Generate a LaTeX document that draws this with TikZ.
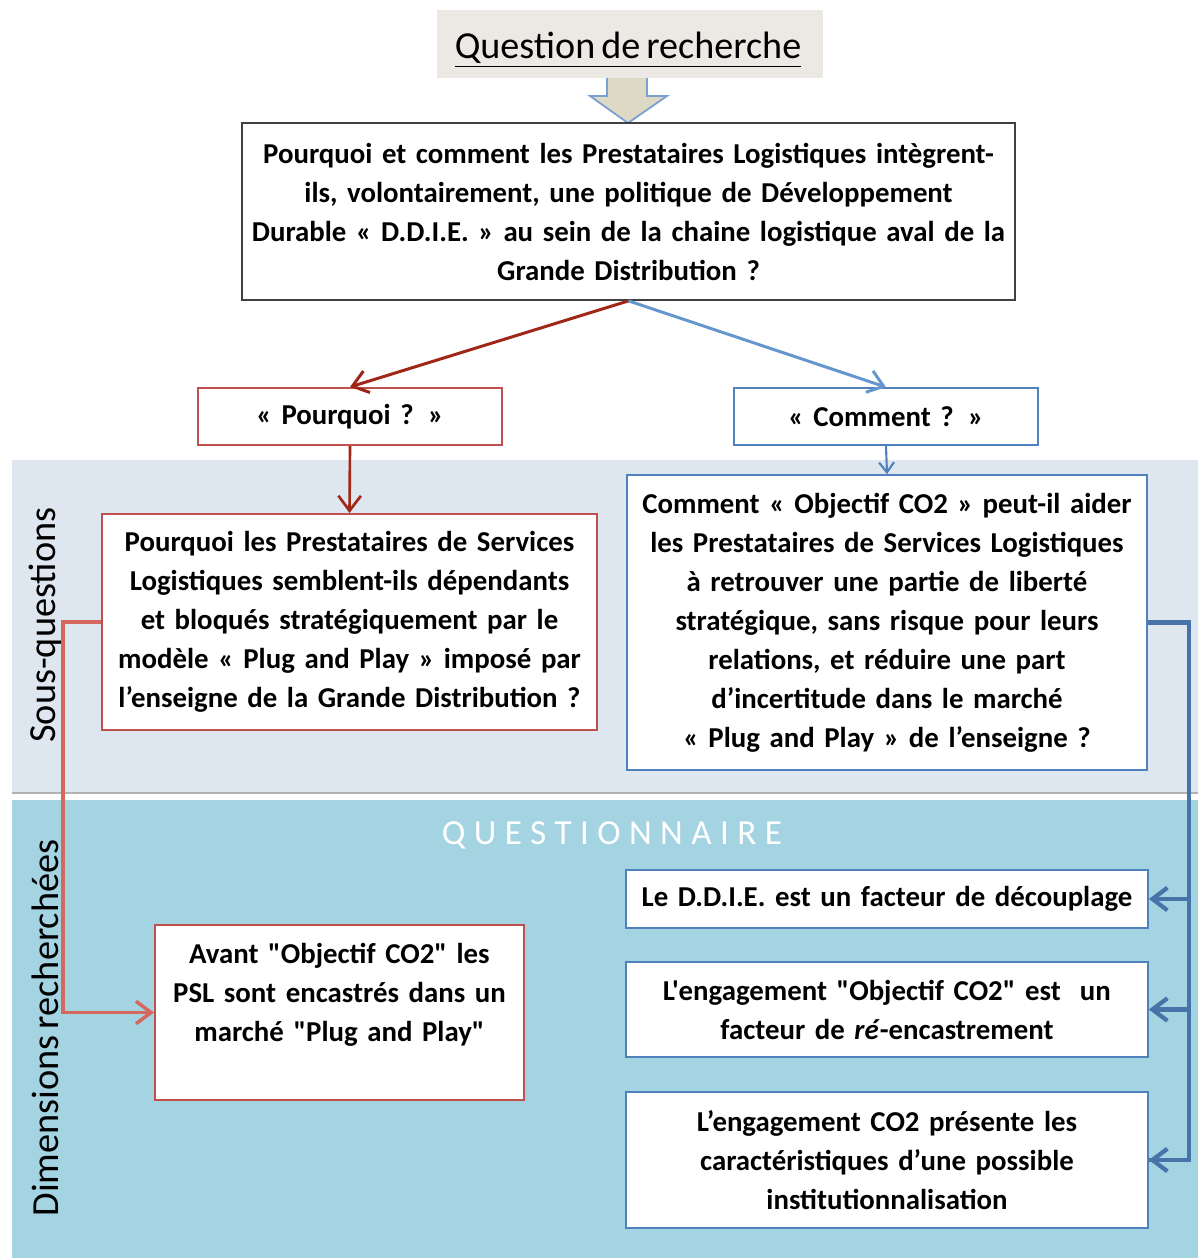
\documentclass[tikz,border=0pt]{standalone}
\usepackage{fontspec}
\setmainfont{Carlito}[Ligatures=TeXOff, WordSpace=0.7]
\usetikzlibrary{arrows.meta}

\definecolor{titlegray}{RGB}{236,232,227}
\definecolor{arrowfill}{RGB}{221,217,196}
\definecolor{arrowline}{RGB}{120,160,208}
\definecolor{darkred}{RGB}{160,38,24}
\definecolor{lightblue}{RGB}{102,150,206}
\definecolor{boxred}{RGB}{192,80,77}
\definecolor{boxblue}{RGB}{79,129,189}
\definecolor{sousband}{RGB}{222,230,239}
\definecolor{dimband}{RGB}{164,212,226}
\definecolor{conred}{RGB}{212,104,94}
\definecolor{conblue}{RGB}{70,116,168}

\tikzset{
  box/.style={draw, fill=white, inner sep=0pt, align=center,
    font=\bfseries\fontsize{16.4}{22.2}\selectfont},
  redbox/.style={box, draw=boxred, line width=1.2pt},
  bluebox/.style={box, draw=boxblue, line width=1pt},
  sidelabel/.style={rotate=90, font=\fontsize{21.8}{24}\selectfont},
  tip/.style={-{Straight Barb[length=3mm,width=4.5mm]}}
}

\begin{document}
\begin{tikzpicture}
  \useasboundingbox (0cm,0cm) rectangle (23.96cm,-25.16cm);
  % bands
  \filldraw[fill=sousband, draw=none] (0.24cm,-9.2cm) rectangle (23.96cm,-15.84cm);
  \draw[gray!60, line width=1.5pt] (0.24cm,-15.86cm) -- (23.96cm,-15.86cm);
  \filldraw[fill=dimband, draw=none] (0.24cm,-16cm) rectangle (23.96cm,-25.16cm);
  \node[sidelabel] (souslbl) at (0.9cm,-12.5cm) {Sous-questions};
  \node[sidelabel] (dimlbl) at (0.9cm,-20.56cm) {Dimensions recherchées};
  \node[white, font=\fontsize{20}{24}\selectfont\addfontfeatures{LetterSpace=24}] (questionnaire) at (12.24cm,-16.7cm) {QUESTIONNAIRE};

  % title and block arrow
  \filldraw[fill=arrowfill, draw=none] (12.14cm,-1.5cm) -- (12.14cm,-1.92cm) -- (11.8cm,-1.92cm) -- (12.56cm,-2.46cm) -- (13.34cm,-1.92cm) -- (12.94cm,-1.92cm) -- (12.94cm,-1.5cm) -- cycle;
  \draw[arrowline, line width=1pt] (12.14cm,-1.56cm) -- (12.14cm,-1.92cm) -- (11.8cm,-1.92cm) -- (12.56cm,-2.46cm) -- (13.34cm,-1.92cm) -- (12.94cm,-1.92cm) -- (12.94cm,-1.56cm);
  \filldraw[fill=titlegray, draw=none] (8.74cm,-0.2cm) rectangle (16.46cm,-1.56cm);
  \node[font=\fontsize{21.7}{24}\selectfont] (title) at (12.56cm,-1.0cm) {\underline{Question de recherche}};

  % question
  \node[box, draw=black!75, line width=1pt, text width=15.46cm, minimum height=3.54cm] (main) at (12.57cm,-4.23cm)
    {Pourquoi et comment les Prestataires Logistiques intègrent-\\ils, volontairement, une politique de Développement\\Durable « D.D.I.E. » au sein de la chaine logistique aval de la\\Grande Distribution ?};
  \node[redbox, text width=6.08cm, minimum height=1.14cm] (pourquoi) at (7cm,-8.33cm) {« Pourquoi ? »};
  \node[bluebox, text width=6.08cm, minimum height=1.14cm] (comment) at (17.72cm,-8.33cm) {« Comment ? »};

  % sous-questions
  \node[redbox, text width=9.9cm, minimum height=4.32cm] (redq) at (6.99cm,-12.44cm)
    {Pourquoi les Prestataires de Services\\Logistiques semblent-ils dépendants\\et bloqués stratégiquement par le\\modèle « Plug and Play » imposé par\\l’enseigne de la Grande Distribution ?};
  \node[bluebox, text width=10.4cm, minimum height=5.9cm] (blueq) at (17.74cm,-12.45cm)
    {Comment « Objectif CO2 » peut-il aider\\les Prestataires de Services Logistiques\\à retrouver une partie de liberté\\stratégique, sans risque pour leurs\\relations, et réduire une part\\d’incertitude dans le marché\\« Plug and Play » de l’enseigne ?};

  % dimensions
  \node[redbox, text width=7.38cm, minimum height=3.5cm] (redd) at (6.79cm,-20.25cm)
    {Avant "Objectif CO2" les\\PSL sont encastrés dans un\\marché "Plug and Play"\\[-6pt] \strut};
  \node[bluebox, text width=10.44cm, minimum height=1.16cm] (dima) at (17.74cm,-17.98cm)
    {Le D.D.I.E. est un facteur de découplage};
  \node[bluebox, text width=10.44cm, minimum height=1.9cm] (dimb) at (17.74cm,-20.19cm)
    {L'engagement "Objectif CO2" est~~un\\facteur de \textit{ré}-encastrement};
  \node[bluebox, text width=10.44cm, minimum height=2.72cm] (dimc) at (17.74cm,-23.2cm)
    {L’engagement CO2 présente les\\caractéristiques d’une possible\\institutionnalisation};

  % connectors
  \draw[tip, darkred, line width=1.7pt] (main.south) -- (pourquoi.north);
  \draw[tip, lightblue, line width=1.7pt] (main.south) -- (comment.north);
  \draw[tip, darkred, line width=1.5pt] (pourquoi.south) -- (redq.north);
  \draw[-{Straight Barb[length=2mm,width=3mm]}, boxblue, line width=1.2pt] (comment.south) -- (blueq.north);
  \draw[tip, conred, line width=2pt] (redq.west) -- ++(-0.76cm,0) |- (redd.west);
  \draw[conblue, line width=2.4pt] (blueq.east) -- ++(0.82cm,0) coordinate (bend) |- (dimc.east);
  \draw[tip, conblue, line width=2.4pt] (bend |- dimc.east) -- (dimc.east);
  \draw[tip, conblue, line width=2.4pt] (bend |- dima.east) -- (dima.east);
  \draw[tip, conblue, line width=2.4pt] (bend |- dimb.east) -- (dimb.east);
\end{tikzpicture}
\end{document}
